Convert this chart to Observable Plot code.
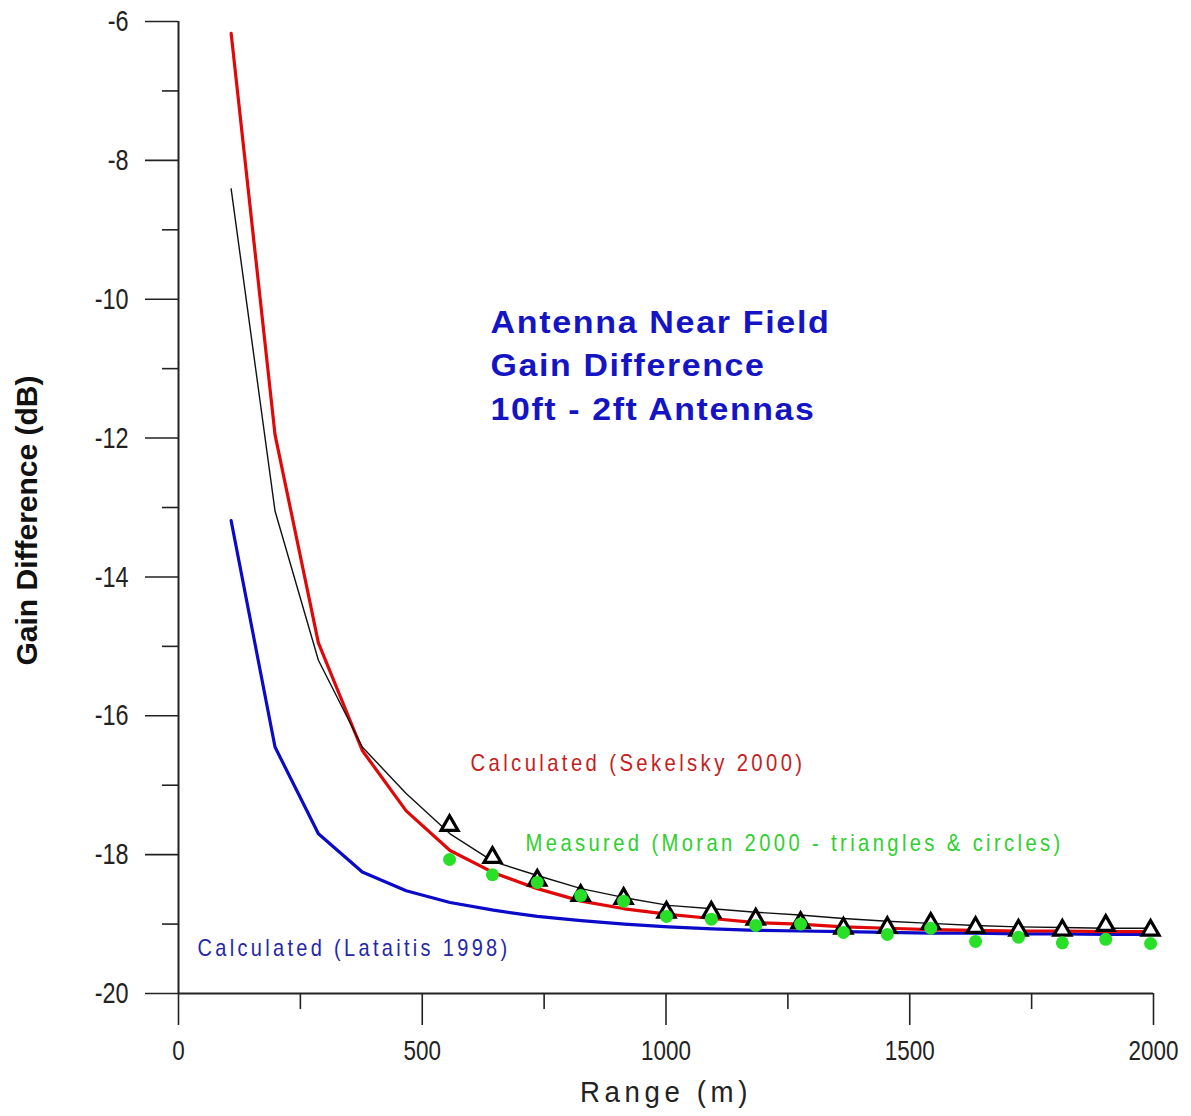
<!DOCTYPE html>
<html><head><meta charset="utf-8">
<script src="https://cdn.jsdelivr.net/npm/d3@7"></script>
<script src="https://cdn.jsdelivr.net/npm/@observablehq/plot@0.6"></script>
<style>
body{margin:0;background:#fff}
</style>
</head><body><div id="chart"></div>
<script>
// Range samples of the calculated curves (m)
const lineRange = [108,198,287,377,467,557,646,736,826,915,1005,1095,1184,1274,1364,1454,1543,1633,1723,1812,1902,1995];
// Calculated (Sekelsky 2000) - red
const sekelsky = [-6.17,-11.95,-14.95,-16.5,-17.37,-17.94,-18.26,-18.49,-18.67,-18.78,-18.86,-18.92,-18.98,-19.0,-19.04,-19.06,-19.08,-19.09,-19.1,-19.1,-19.11,-19.11];
// Thin black calculated curve
const blackCurve = [-8.41,-13.05,-15.2,-16.45,-17.12,-17.7,-18.1,-18.3,-18.49,-18.62,-18.73,-18.78,-18.83,-18.87,-18.92,-18.96,-18.99,-19.02,-19.04,-19.05,-19.06,-19.06];
// Calculated (Lataitis 1998) - blue
const lataitis = [-13.19,-16.45,-17.7,-18.25,-18.52,-18.69,-18.8,-18.89,-18.95,-19.0,-19.04,-19.07,-19.09,-19.1,-19.11,-19.12,-19.13,-19.13,-19.14,-19.14,-19.15,-19.15];
// Measured (Moran 2000)
const moranRange = [556,644,736,825,913,1001,1093,1184,1276,1364,1454,1543,1635,1723,1813,1902,1994];
const moranTriangles = [-17.58,-18.04,-18.37,-18.59,-18.63,-18.83,-18.83,-18.93,-18.98,-19.06,-19.05,-18.99,-19.05,-19.09,-19.09,-19.02,-19.09];
const moranCircles = [-18.07,-18.29,-18.40,-18.59,-18.67,-18.89,-18.93,-19.02,-19.0,-19.12,-19.15,-19.06,-19.25,-19.19,-19.27,-19.22,-19.28];
// Axis ticks
const xMajor = [0,500,1000,1500,2000];
const xMinor = [250,750,1250,1750];
const yMajor = [-6,-8,-10,-12,-14,-16,-18,-20];
const yMinor = [-7,-9,-11,-13,-15,-17,-19];
// Texts
const titleLines = ["Antenna Near Field","Gain Difference","10ft - 2ft Antennas"];
const titleY = [-10.34,-10.97,-11.6];
const titleX = 640;
const noteTexts = ["Calculated (Sekelsky 2000)","Measured (Moran 2000 - triangles & circles)","Calculated (Lataitis 1998)"];
const noteX = [599,712,39];
const noteY = [-16.69,-17.84,-19.35];
const xLabel = "Range (m)";
const yLabel = "Gain Difference (dB)";

// styling (not data)
const noteColors = ["#c41e1e","#2fcf2f","#2626a8"];
const noteWidths = [335,538,313];
const titleWidths = [340,275,325];
const sans = "'Liberation Sans',Arial,sans-serif";

const toRows = (xs, ys) => xs.map((x,i)=>({x, y: ys[i]}));

const chart = Plot.plot({
  width: 1191, height: 1116,
  marginLeft: 178, marginRight: 38, marginTop: 21, marginBottom: 123,
  x: {domain:[0,2000]},
  y: {domain:[-20,-6]},
  style: {fontFamily: sans, fontSize: "30px", color:"#222", background:"#fff"},
  marks: [
    Plot.axisX({ticks: xMajor, tickSize: 32, tickPadding: 15, tickFormat: d=>`${d}`, fontSize: 27, stroke:"#222", strokeWidth:1.6, label:null}),
    Plot.axisX({ticks: xMinor, tickSize: 16, tickFormat: ()=>"", stroke:"#222", strokeWidth:1.6, label:null}),
    Plot.axisY({ticks: yMajor, tickSize: 33, tickPadding: 17, tickFormat: d=>`${d}`, stroke:"#222", strokeWidth:1.6, label:null}),
    Plot.axisY({ticks: yMinor, tickSize: 16, tickFormat: ()=>"", stroke:"#222", strokeWidth:1.6, label:null}),
    Plot.ruleX([0], {y1:-20, y2:-6, stroke:"#222", strokeWidth:2}),
    Plot.ruleY([-20], {x1:0, x2:2000, stroke:"#222", strokeWidth:2}),
    Plot.line(toRows(lineRange, lataitis), {x:"x", y:"y", stroke:"#0a0ac8", strokeWidth:3.2}),
    Plot.line(toRows(lineRange, sekelsky), {x:"x", y:"y", stroke:"#e00808", strokeWidth:3.2}),
    Plot.line(toRows(lineRange, blackCurve), {x:"x", y:"y", stroke:"#111", strokeWidth:1.4}),
    Plot.dot(toRows(moranRange, moranTriangles), {x:"x", y:"y", symbol:"triangle", r:6.3, stroke:"#000", strokeWidth:3.2, fill:"#fff"}),
    Plot.dot(toRows(moranRange, moranCircles), {x:"x", y:"y", r:6.5, fill:"#27e027", stroke:"none"}),
    Plot.text(titleLines.map((t,i)=>({t, y:titleY[i]})), {x: ()=>titleX, y:"y", text:"t", textAnchor:"start", lineAnchor:"middle", fill:"#1414c4", fontSize:31, fontWeight:"bold"}),
    Plot.text(noteTexts.map((t,i)=>({t, x:noteX[i], y:noteY[i], c:noteColors[i]})), {x:"x", y:"y", text:"t", fill:"c", textAnchor:"start", lineAnchor:"middle", fontSize:24}),
    Plot.text([yLabel], {frameAnchor:"left", rotate:-90, dx:-151, dy:13, textAnchor:"middle", lineAnchor:"middle", fontSize:30, fontWeight:"bold", fill:"#111"}),
    Plot.text([xLabel], {frameAnchor:"bottom", dy:99, textAnchor:"middle", lineAnchor:"middle", fontSize:30, fill:"#222"})
  ]
});
document.getElementById("chart").appendChild(chart);

// Post-layout text fitting (narrow, letter-spaced look of the original)
function fitEl(el, spacing, target) {
  if (spacing) el.style.letterSpacing = spacing + "px";
  const w = el.getComputedTextLength();
  el.setAttribute("textLength", typeof target === "function" ? target(w) : target);
  el.setAttribute("lengthAdjust", "spacingAndGlyphs");
}
chart.querySelectorAll('g[aria-label="x-axis tick label"] text').forEach(el => fitEl(el, 0, w => w * 0.83));
chart.querySelectorAll('g[aria-label="y-axis tick label"] text').forEach(el => fitEl(el, 0, w => w * 0.78));
chart.querySelectorAll("text").forEach(el => {
  const s = el.textContent;
  const ni = noteTexts.indexOf(s);
  if (ni >= 0) fitEl(el, 4, noteWidths[ni]);
  const ti = titleLines.indexOf(s);
  if (ti >= 0) fitEl(el, 1.5, titleWidths[ti]);
  if (s === xLabel) fitEl(el, 5, 172);
});
</script>
</body></html>
